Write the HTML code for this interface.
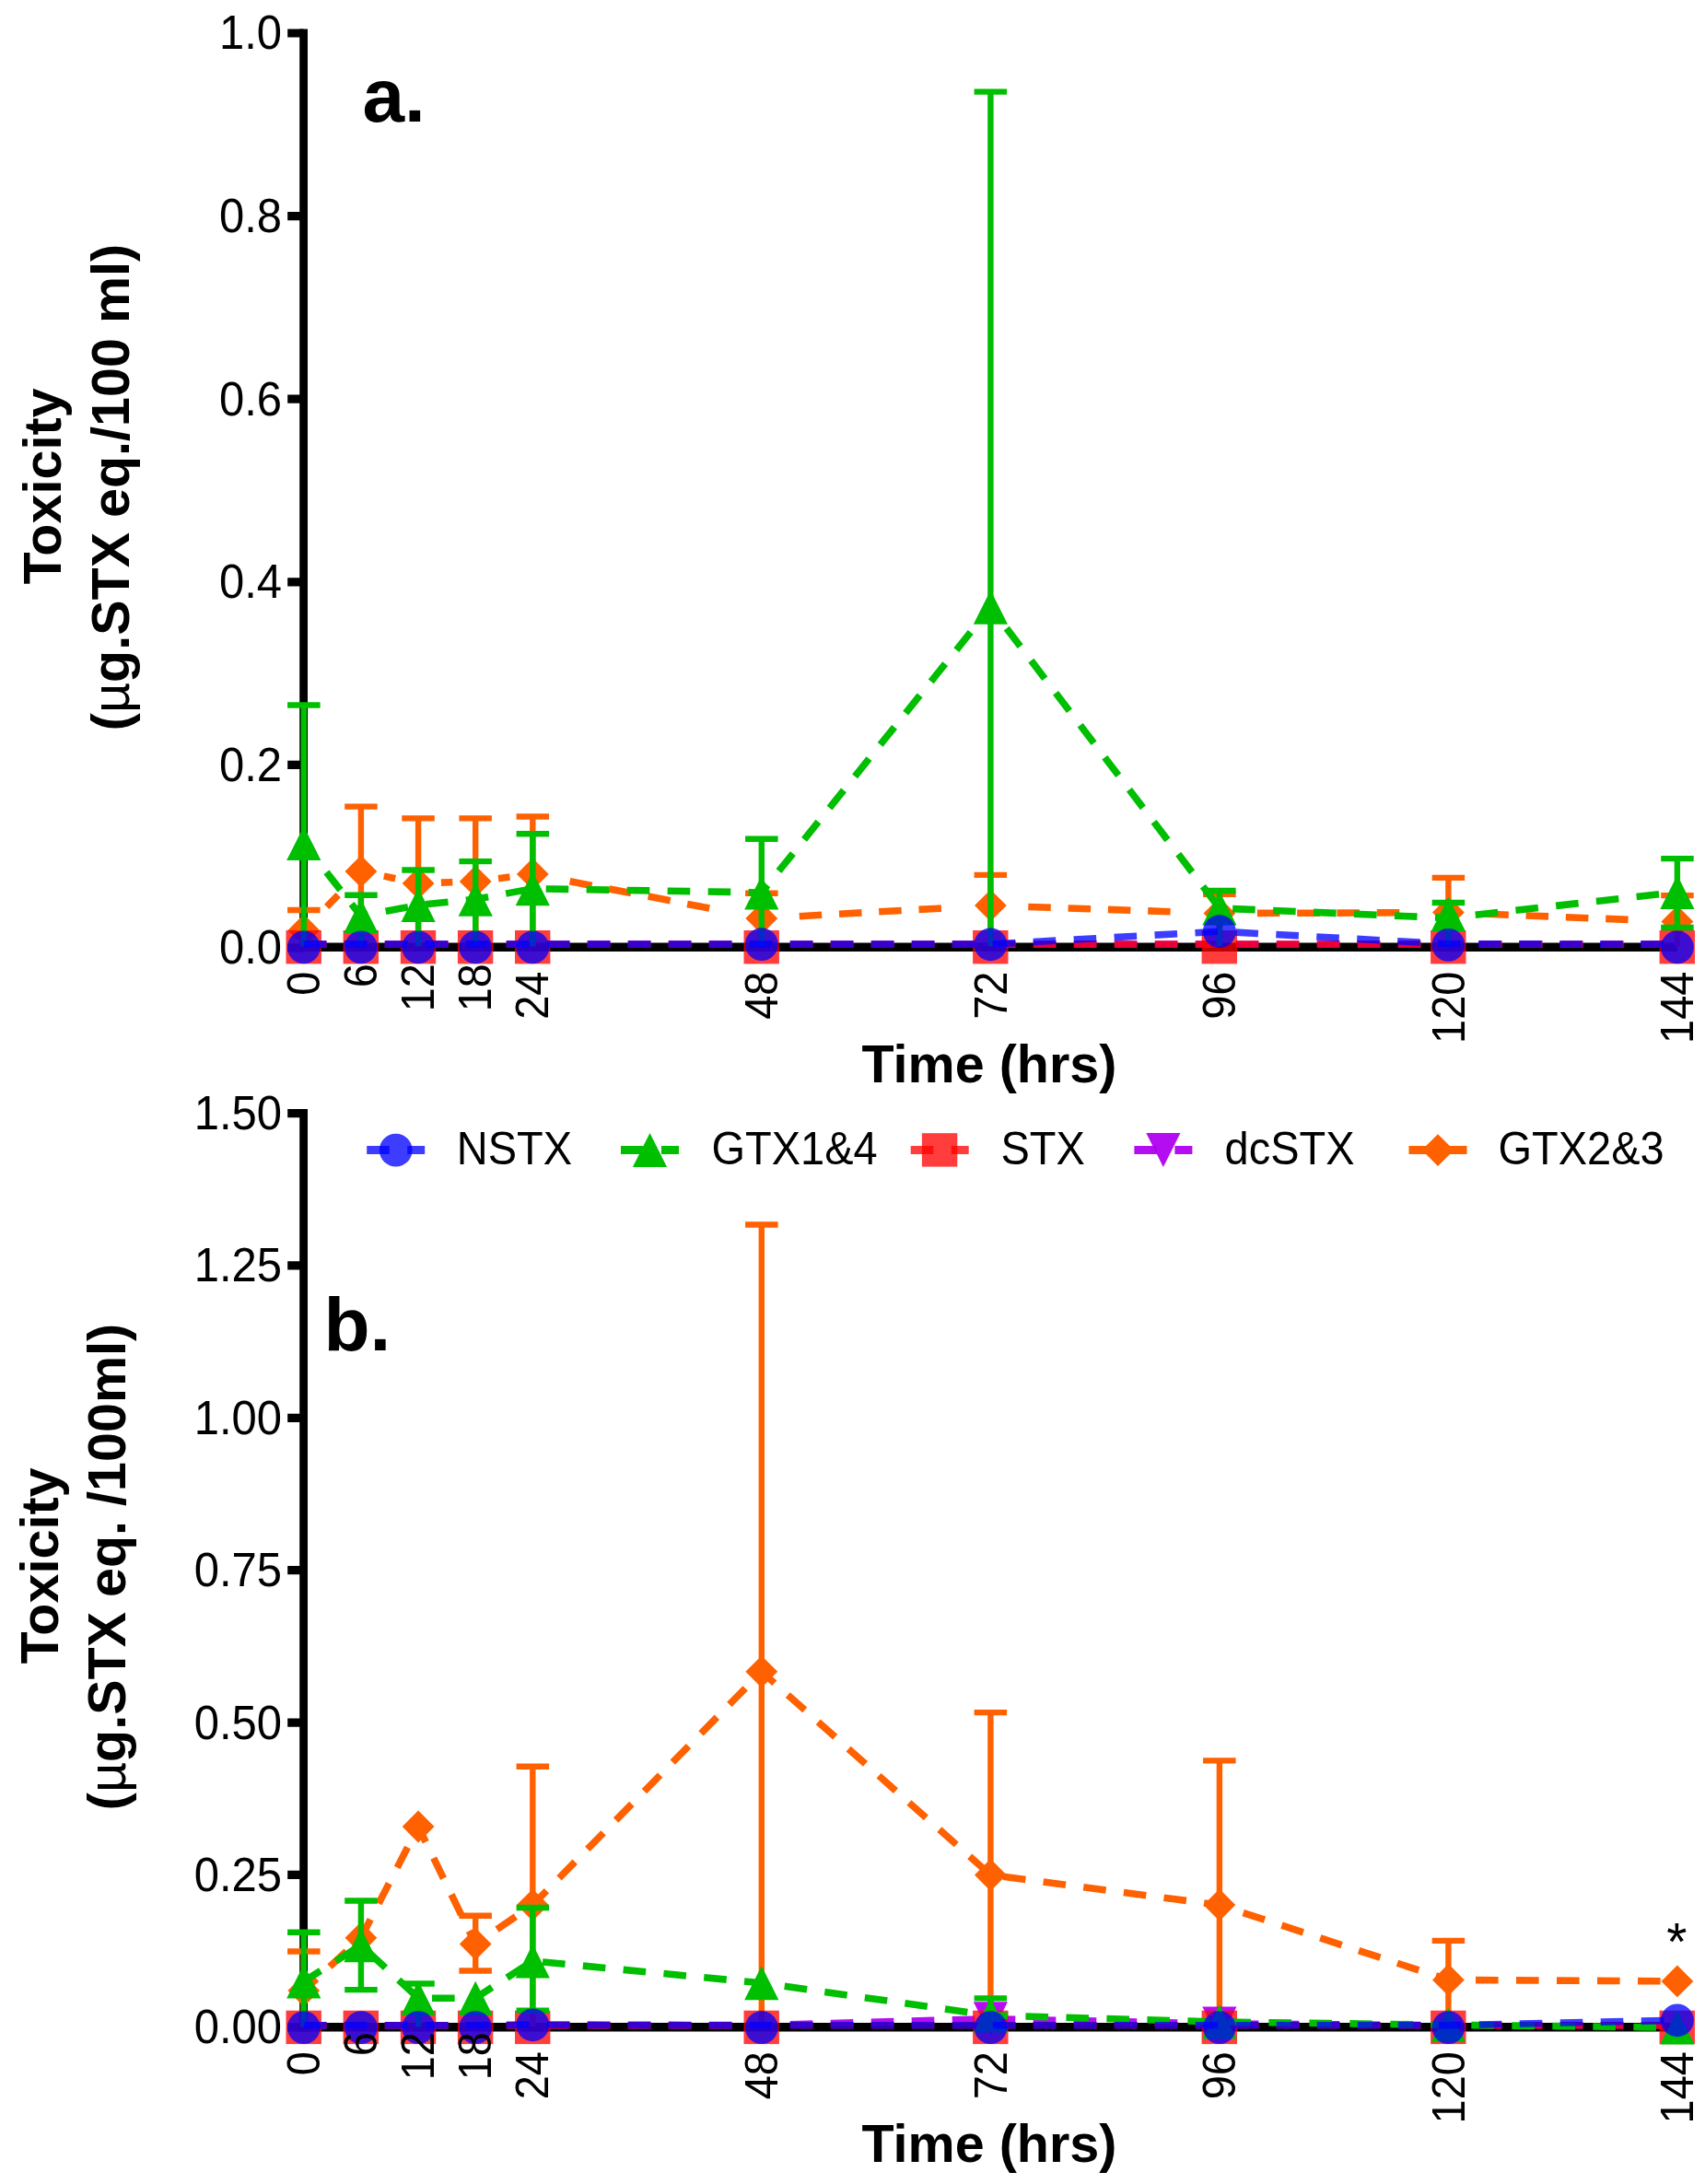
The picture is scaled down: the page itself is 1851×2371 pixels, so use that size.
<!DOCTYPE html>
<html lang="en"><head><meta charset="utf-8"><title>Toxicity over time</title>
<style>html,body{margin:0;padding:0;background:#fff}svg{display:block;filter:blur(0.55px)}text{font-family:"Liberation Sans",sans-serif;fill:#000}.b{font-weight:bold}.t{font-size:47px}.tk{font-size:49px}.ax{font-size:57.5px;font-weight:bold}</style></head><body>
<svg width="1851" height="2371" viewBox="0 0 1851 2371">
<rect width="1851" height="2371" fill="#fff"/>
<g stroke="#000" fill="none">
<path d="M329.6 31.4V1033.1" stroke-width="8.8"/>
<path d="M325.2 1028.3H1820.9" stroke-width="9.6"/>
<path d="M312.2 1029H329.6M312.2 830.4H329.6M312.2 631.8H329.6M312.2 433.2H329.6M312.2 234.6H329.6M312.2 36H329.6" stroke-width="9.2"/>
</g>
<g class="tk" text-anchor="end">
<text transform="translate(306 1046.4) scale(1 1.055)">0.0</text>
<text transform="translate(306 847.8) scale(1 1.055)">0.2</text>
<text transform="translate(306 649.2) scale(1 1.055)">0.4</text>
<text transform="translate(306 450.6) scale(1 1.055)">0.6</text>
<text transform="translate(306 252) scale(1 1.055)">0.8</text>
<text transform="translate(306 53.4) scale(1 1.055)">1.0</text>
</g>
<g fill="#ff6000" stroke="#ff6000" fill-opacity="1" stroke-opacity="1">
<path d="M329.8 988V1027.3M312.1 988H347.6M391.9 875.6V1027.3M374.2 875.6H409.7M454.1 888.4V1027.3M436.3 888.4H471.8M516.2 888.4V1027.3M498.4 888.4H533.9M578.3 886.5V1027.3M560.6 886.5H596.1M826.8 969.8V1027.3M809.1 969.8H844.6M1075.4 949.9V1027.3M1057.6 949.9H1093.1M1323.9 970.8V1027.3M1306.1 970.8H1341.6M1572.4 952.9V1027.3M1554.7 952.9H1590.2M1820.9 972.1V1027.3M1803.2 972.1H1838.7" fill="none" stroke-width="6.4"/>
<path d="M354.7 984.4L367.1 971.6M416.8 951.1L429.2 953.7M478.9 958.1L491.3 957.7M541 953.7L553.5 952.1M618.6 956.7L642.6 961.4M661.1 964.9L685.1 969.6M703.6 973.1L727.7 977.8M746.1 981.4L770.2 986M867.8 994.7L892.2 993.3M911 992.2L935.5 990.9M954.2 989.8L978.7 988.5M997.5 987.4L1021.9 986.1M1116.3 984.5L1140.8 985.3M1159.6 986L1184.1 986.8M1202.9 987.4L1227.4 988.3M1246.2 988.9L1270.6 989.8M1364.9 991.4L1389.4 991.3M1408.2 991.3L1432.7 991.2M1451.5 991.1L1476 991M1494.8 990.9L1519.3 990.8M1613.4 992.2L1637.8 993.2M1656.6 994L1681.1 994.9M1699.9 995.7L1724.4 996.7M1743.2 997.4L1767.6 998.4" fill="none" stroke-width="7.6"/>
<g stroke="none">
<path d="M329.8 992.5L347.2 1009.9L329.8 1027.3L312.4 1009.9Z"/>
<path d="M391.9 928.6L409.3 946L391.9 963.4L374.5 946Z"/>
<path d="M454.1 941.5L471.5 958.9L454.1 976.3L436.7 958.9Z"/>
<path d="M516.2 939.5L533.6 956.9L516.2 974.3L498.8 956.9Z"/>
<path d="M578.3 931.5L595.7 948.9L578.3 966.3L560.9 948.9Z"/>
<path d="M826.8 979.6L844.2 997L826.8 1014.4L809.4 997Z"/>
<path d="M1075.4 965.7L1092.8 983.1L1075.4 1000.5L1058 983.1Z"/>
<path d="M1323.9 974.2L1341.3 991.6L1323.9 1009L1306.5 991.6Z"/>
<path d="M1572.4 973.2L1589.8 990.6L1572.4 1008L1555 990.6Z"/>
<path d="M1820.9 983.1L1838.3 1000.5L1820.9 1017.9L1803.5 1000.5Z"/>
</g>
</g>
<g fill="#b000f0" stroke="#b000f0" fill-opacity="0.95" stroke-opacity="0.95">
<path d="M329.8 1025.1L391.9 1025.1L454.1 1025.1L516.2 1025.1L578.3 1025.1L826.8 1025.1L1075.4 1025.1L1323.9 1025.1L1572.4 1025.1L1820.9 1025.1" fill="none" stroke-width="7.6" stroke-dasharray="24.6 19.4" stroke-dashoffset="0"/>
<g stroke="none">
</g>
</g>
<g fill="#ff0000" stroke="#ff0000" fill-opacity="0.76" stroke-opacity="0.76">
<path d="M329.8 1025.1L391.9 1025.1L454.1 1025.1L516.2 1025.1L578.3 1025.1L826.8 1025.1L1075.4 1025.1L1323.9 1025.1L1572.4 1025.1L1820.9 1025.1" fill="none" stroke-width="7.6" stroke-dasharray="24.6 19.4" stroke-dashoffset="0"/>
<g stroke="none">
<rect x="310.5" y="1010" width="38.4" height="36.4"/>
<rect x="372.6" y="1010" width="38.4" height="36.4"/>
<rect x="434.8" y="1010" width="38.4" height="36.4"/>
<rect x="496.9" y="1010" width="38.4" height="36.4"/>
<rect x="559" y="1010" width="38.4" height="36.4"/>
<rect x="807.5" y="1010" width="38.4" height="36.4"/>
<rect x="1056.1" y="1010" width="38.4" height="36.4"/>
<rect x="1304.6" y="1010" width="38.4" height="36.4"/>
<rect x="1553.1" y="1010" width="38.4" height="36.4"/>
<rect x="1801.6" y="1010" width="38.4" height="36.4"/>
</g>
</g>
<g fill="#00be00" stroke="#00be00" fill-opacity="1" stroke-opacity="1">
<path d="M329.8 765.5V1027.3M312.1 765.5H347.6M391.9 971.8V1027.3M374.2 971.8H409.7M454.1 944.5V1027.3M436.3 944.5H471.8M516.2 935.1V1027.3M498.4 935.1H533.9M578.3 905.3V1027.3M560.6 905.3H596.1M826.8 910.7V1027.3M809.1 910.7H844.6M1075.4 99.6V1027.3M1057.6 99.6H1093.1M1323.9 967V1027.3M1306.1 967H1341.6M1572.4 980V1027.3M1554.7 980H1590.2M1820.9 932.1V1007M1803.2 932.1H1838.7M1803.2 1007H1838.7" fill="none" stroke-width="6.4"/>
<path d="M329.8 915.5L391.9 994.5L454.1 982.5L516.2 976.3L578.3 964.7L826.8 969L1075.4 659.3L1323.9 986L1572.4 996.6L1820.9 968.5" fill="none" stroke-width="7.6" stroke-dasharray="24.6 19.4" stroke-dashoffset="4.2"/>
<g stroke="none">
<path d="M329.8 897L348.4 934L311.2 934Z"/>
<path d="M391.9 976L410.5 1013L373.3 1013Z"/>
<path d="M454.1 964L472.7 1001L435.5 1001Z"/>
<path d="M516.2 957.8L534.8 994.8L497.6 994.8Z"/>
<path d="M578.3 946.2L596.9 983.2L559.7 983.2Z"/>
<path d="M826.8 950.5L845.4 987.5L808.2 987.5Z"/>
<path d="M1075.4 640.8L1094 677.8L1056.8 677.8Z"/>
<path d="M1323.9 967.5L1342.5 1004.5L1305.3 1004.5Z"/>
<path d="M1572.4 973.9L1591 1010.9L1553.8 1010.9Z"/>
<path d="M1820.9 950L1839.5 987L1802.3 987Z"/>
</g>
</g>
<g fill="#0000ff" stroke="#0000ff" fill-opacity="0.76" stroke-opacity="0.76">
<path d="M329.8 1025.1L391.9 1025.1L454.1 1025.1L516.2 1025.1L578.3 1025.1L826.8 1025.1L1075.4 1025.1L1323.9 1011.2L1572.4 1024.8L1820.9 1025.1" fill="none" stroke-width="7.6" stroke-dasharray="24.6 19.4" stroke-dashoffset="0"/>
<g stroke="none">
<circle cx="329.8" cy="1028.4" r="17.9"/>
<circle cx="391.9" cy="1028.4" r="17.9"/>
<circle cx="454.1" cy="1028.4" r="17.9"/>
<circle cx="516.2" cy="1028.4" r="17.9"/>
<circle cx="578.3" cy="1028.4" r="17.9"/>
<circle cx="826.8" cy="1025.2" r="17.9"/>
<circle cx="1075.4" cy="1025.3" r="17.9"/>
<circle cx="1323.9" cy="1011.2" r="17.9"/>
<circle cx="1572.4" cy="1025.9" r="17.9"/>
<circle cx="1820.9" cy="1028.4" r="17.9"/>
</g>
</g>
<g stroke="#000" fill="none">
<path d="M329.6 1204V2205.5" stroke-width="8.8"/>
<path d="M325.2 2200.7H1820.9" stroke-width="9.6"/>
<path d="M312.2 2200.8H329.6M312.2 2035.4H329.6M312.2 1870.1H329.6M312.2 1704.7H329.6M312.2 1539.3H329.6M312.2 1373.9H329.6M312.2 1208.6H329.6" stroke-width="9.2"/>
</g>
<g class="tk" text-anchor="end">
<text transform="translate(306 2218.2) scale(1 1.055)">0.00</text>
<text transform="translate(306 2052.8) scale(1 1.055)">0.25</text>
<text transform="translate(306 1887.5) scale(1 1.055)">0.50</text>
<text transform="translate(306 1722.1) scale(1 1.055)">0.75</text>
<text transform="translate(306 1556.7) scale(1 1.055)">1.00</text>
<text transform="translate(306 1391.3) scale(1 1.055)">1.25</text>
<text transform="translate(306 1226) scale(1 1.055)">1.50</text>
</g>
<g fill="#ff6000" stroke="#ff6000" fill-opacity="1" stroke-opacity="1">
<path d="M329.8 2118.5V2200.3M312.1 2118.5H347.6M516.2 2079.8V2139.5M498.4 2079.8H533.9M498.4 2139.5H533.9M578.3 1917.8V2200.3M560.6 1917.8H596.1M826.8 1329.5V2200.3M809.1 1329.5H844.6M1075.4 1859.1V2200.3M1057.6 1859.1H1093.1M1323.9 1911.4V2200.3M1306.1 1911.4H1341.6M1572.4 2106.9V2200.3M1554.7 2106.9H1590.2" fill="none" stroke-width="6.4"/>
<path d="M329.8 2161L391.9 2103.8L454.1 1983L516.2 2110.5L578.3 2068.1L826.8 1814.8L1075.4 2035.5L1323.9 2068.1L1572.4 2149.4L1820.9 2150.9" fill="none" stroke-width="7.6" stroke-dasharray="24.6 19.4" stroke-dashoffset="5.7"/>
<g stroke="none">
<path d="M329.8 2143.6L347.2 2161L329.8 2178.4L312.4 2161Z"/>
<path d="M391.9 2086.4L409.3 2103.8L391.9 2121.2L374.5 2103.8Z"/>
<path d="M454.1 1965.6L471.5 1983L454.1 2000.4L436.7 1983Z"/>
<path d="M516.2 2093.1L533.6 2110.5L516.2 2127.9L498.8 2110.5Z"/>
<path d="M578.3 2050.7L595.7 2068.1L578.3 2085.5L560.9 2068.1Z"/>
<path d="M826.8 1797.4L844.2 1814.8L826.8 1832.2L809.4 1814.8Z"/>
<path d="M1075.4 2018.1L1092.8 2035.5L1075.4 2052.9L1058 2035.5Z"/>
<path d="M1323.9 2050.7L1341.3 2068.1L1323.9 2085.5L1306.5 2068.1Z"/>
<path d="M1572.4 2132L1589.8 2149.4L1572.4 2166.8L1555 2149.4Z"/>
<path d="M1820.9 2133.5L1838.3 2150.9L1820.9 2168.3L1803.5 2150.9Z"/>
</g>
</g>
<g fill="#b000f0" stroke="#b000f0" fill-opacity="0.95" stroke-opacity="0.95">
<path d="M329.8 2198.7L391.9 2198.7L454.1 2198.7L516.2 2198.7L578.3 2198.7L826.8 2198.7L1075.4 2191.7L1323.9 2197L1572.4 2198.7L1820.9 2198.7" fill="none" stroke-width="7.6" stroke-dasharray="24.6 19.4" stroke-dashoffset="0"/>
<g stroke="none">
<path d="M1075.4 2210.2L1094 2173.2L1056.8 2173.2Z"/>
<path d="M1323.9 2215.5L1342.5 2178.5L1305.3 2178.5Z"/>
</g>
</g>
<g fill="#ff0000" stroke="#ff0000" fill-opacity="0.76" stroke-opacity="0.76">
<path d="M329.8 2198.7L391.9 2198.7L454.1 2198.7L516.2 2198.7L578.3 2198.7L826.8 2198.7L1075.4 2198.7L1323.9 2198.7L1572.4 2198.7L1820.9 2198.7" fill="none" stroke-width="7.6" stroke-dasharray="24.6 19.4" stroke-dashoffset="0"/>
<g stroke="none">
<rect x="310.5" y="2182.7" width="38.4" height="36.4"/>
<rect x="372.6" y="2182.7" width="38.4" height="36.4"/>
<rect x="434.8" y="2182.7" width="38.4" height="36.4"/>
<rect x="496.9" y="2182.7" width="38.4" height="36.4"/>
<rect x="559" y="2182.7" width="38.4" height="36.4"/>
<rect x="807.5" y="2182.7" width="38.4" height="36.4"/>
<rect x="1056.1" y="2182.7" width="38.4" height="36.4"/>
<rect x="1304.6" y="2182.7" width="38.4" height="36.4"/>
<rect x="1553.1" y="2182.7" width="38.4" height="36.4"/>
<rect x="1801.6" y="2182.7" width="38.4" height="36.4"/>
</g>
</g>
<g fill="#00be00" stroke="#00be00" fill-opacity="1" stroke-opacity="1">
<path d="M329.8 2097.8V2200.3M312.1 2097.8H347.6M391.9 2063.5V2160.1M374.2 2063.5H409.7M374.2 2160.1H409.7M454.1 2153.5V2200.3M436.3 2153.5H471.8M578.3 2071V2182.6M560.6 2071H596.1M560.6 2182.6H596.1M1075.4 2169.4V2200.3M1057.6 2169.4H1093.1" fill="none" stroke-width="6.4"/>
<path d="M329.8 2151L391.9 2111.8L454.1 2169.2L516.2 2169.2L578.3 2128.9L826.8 2152.8L1075.4 2188L1323.9 2195L1572.4 2198.3L1820.9 2201.1" fill="none" stroke-width="7.6" stroke-dasharray="24.6 19.4" stroke-dashoffset="3"/>
<g stroke="none">
<path d="M329.8 2132.5L348.4 2169.5L311.2 2169.5Z"/>
<path d="M391.9 2093.3L410.5 2130.3L373.3 2130.3Z"/>
<path d="M454.1 2150.7L472.7 2187.7L435.5 2187.7Z"/>
<path d="M516.2 2150.7L534.8 2187.7L497.6 2187.7Z"/>
<path d="M578.3 2110.4L596.9 2147.4L559.7 2147.4Z"/>
<path d="M826.8 2134.3L845.4 2171.3L808.2 2171.3Z"/>
<path d="M1075.4 2169.5L1094 2206.5L1056.8 2206.5Z"/>
<path d="M1323.9 2176.5L1342.5 2213.5L1305.3 2213.5Z"/>
<path d="M1572.4 2179.8L1591 2216.8L1553.8 2216.8Z"/>
<path d="M1820.9 2182.6L1839.5 2219.6L1802.3 2219.6Z"/>
</g>
</g>
<g fill="#0000ff" stroke="#0000ff" fill-opacity="0.76" stroke-opacity="0.76">
<path d="M329.8 2198.7L391.9 2198.7L454.1 2198.7L516.2 2198.7L578.3 2198L826.8 2198.7L1075.4 2198.7L1323.9 2198.7L1572.4 2198.7L1820.9 2193.3" fill="none" stroke-width="7.6" stroke-dasharray="24.6 19.4" stroke-dashoffset="0"/>
<g stroke="none">
<circle cx="329.8" cy="2201.1" r="17.9"/>
<circle cx="391.9" cy="2201.1" r="17.9"/>
<circle cx="454.1" cy="2201.1" r="17.9"/>
<circle cx="516.2" cy="2201.1" r="17.9"/>
<circle cx="578.3" cy="2198.3" r="17.9"/>
<circle cx="826.8" cy="2201.1" r="17.9"/>
<circle cx="1075.4" cy="2201.1" r="17.9"/>
<circle cx="1323.9" cy="2201.1" r="17.9"/>
<circle cx="1572.4" cy="2201.1" r="17.9"/>
<circle cx="1820.9" cy="2193.3" r="17.9"/>
</g>
</g>
<g fill="#0000ff" stroke="#0000ff" fill-opacity="0.76" stroke-opacity="0.76">
<g stroke="none"><circle cx="429.7" cy="1248.6" r="17.9"/></g>
<path d="M398.2 1248.6H461.2" fill="none" stroke-width="9" stroke-dasharray="24.6 19.4"/>
</g>
<text class="t" transform="translate(495.8 1264) scale(1 1.055)">NSTX</text>
<g fill="#00be00" stroke="#00be00" fill-opacity="1" stroke-opacity="1">
<g stroke="none"><path d="M705.5 1230.1L724.1 1267.1L686.9 1267.1Z"/></g>
<path d="M674 1248.6H737" fill="none" stroke-width="9" stroke-dasharray="24.6 19.4"/>
</g>
<text class="t" transform="translate(772.5 1264) scale(1 1.055)">GTX1&amp;4</text>
<g fill="#ff0000" stroke="#ff0000" fill-opacity="0.76" stroke-opacity="0.76">
<g stroke="none"><rect x="1000.9" y="1230.2" width="38.4" height="36.4"/></g>
<path d="M988.7 1248.6H1051.7" fill="none" stroke-width="9" stroke-dasharray="24.6 19.4"/>
</g>
<text class="t" transform="translate(1086.5 1264) scale(1 1.055)">STX</text>
<g fill="#b000f0" stroke="#b000f0" fill-opacity="0.95" stroke-opacity="0.95">
<g stroke="none"><path d="M1262.9 1267.1L1281.5 1230.1L1244.3 1230.1Z"/></g>
<path d="M1231.4 1248.6H1294.4" fill="none" stroke-width="9" stroke-dasharray="24.6 19.4"/>
</g>
<text class="t" transform="translate(1329.5 1264) scale(1 1.055)">dcSTX</text>
<g fill="#ff6000" stroke="#ff6000" fill-opacity="1" stroke-opacity="1">
<g stroke="none"><path d="M1561 1231.2L1578.4 1248.6L1561 1266L1543.6 1248.6Z"/></g>
<path d="M1529.5 1248.6H1592.5" fill="none" stroke-width="9" stroke-dasharray="24.6 19.4"/>
</g>
<text class="t" transform="translate(1626.5 1264) scale(1 1.055)">GTX2&amp;3</text>
<g class="t" text-anchor="end">
<text transform="translate(346.9 1054.5) rotate(-90) scale(1 1.055)">0</text>
<text transform="translate(409 1046) rotate(-90) scale(1 1.055)">6</text>
<text transform="translate(471.2 1046) rotate(-90) scale(1 1.055)">12</text>
<text transform="translate(533.3 1046) rotate(-90) scale(1 1.055)">18</text>
<text transform="translate(595.4 1054.5) rotate(-90) scale(1 1.055)">24</text>
<text transform="translate(843.9 1054.5) rotate(-90) scale(1 1.055)">48</text>
<text transform="translate(1092.5 1054.5) rotate(-90) scale(1 1.055)">72</text>
<text transform="translate(1341 1054.5) rotate(-90) scale(1 1.055)">96</text>
<text transform="translate(1589.5 1054.5) rotate(-90) scale(1 1.055)">120</text>
<text transform="translate(1838 1054.5) rotate(-90) scale(1 1.055)">144</text>
</g>
<g class="t" text-anchor="end">
<text transform="translate(346.9 2227) rotate(-90) scale(1 1.055)">0</text>
<text transform="translate(409 2206) rotate(-90) scale(1 1.055)">6</text>
<text transform="translate(471.2 2206) rotate(-90) scale(1 1.055)">12</text>
<text transform="translate(533.3 2206) rotate(-90) scale(1 1.055)">18</text>
<text transform="translate(595.4 2227) rotate(-90) scale(1 1.055)">24</text>
<text transform="translate(843.9 2227) rotate(-90) scale(1 1.055)">48</text>
<text transform="translate(1092.5 2227) rotate(-90) scale(1 1.055)">72</text>
<text transform="translate(1341 2227) rotate(-90) scale(1 1.055)">96</text>
<text transform="translate(1589.5 2227) rotate(-90) scale(1 1.055)">120</text>
<text transform="translate(1838 2227) rotate(-90) scale(1 1.055)">144</text>
</g>
<text class="ax" text-anchor="middle" x="1074" y="1174.9">Time (hrs)</text>
<text class="ax" text-anchor="middle" x="1074" y="2346.5">Time (hrs)</text>
<text class="ax" text-anchor="middle" transform="translate(65.9 528) rotate(-90)">Toxicity</text>
<text class="ax" text-anchor="middle" transform="translate(140.1 529) rotate(-90)">(<tspan font-weight="normal">µ</tspan>g.STX eq./100 ml)</text>
<text class="ax" text-anchor="middle" transform="translate(63.2 1700) rotate(-90)">Toxicity</text>
<text class="ax" text-anchor="middle" transform="translate(136 1701) rotate(-90)">(<tspan font-weight="normal">µ</tspan>g.STX eq. /100ml)</text>
<text class="b" font-size="82" x="393.5" y="131.5">a.</text>
<text class="b" font-size="82" x="351.4" y="1466.2">b.</text>
<text font-size="57" text-anchor="middle" x="1820.4" y="2128">*</text>
</svg></body></html>
